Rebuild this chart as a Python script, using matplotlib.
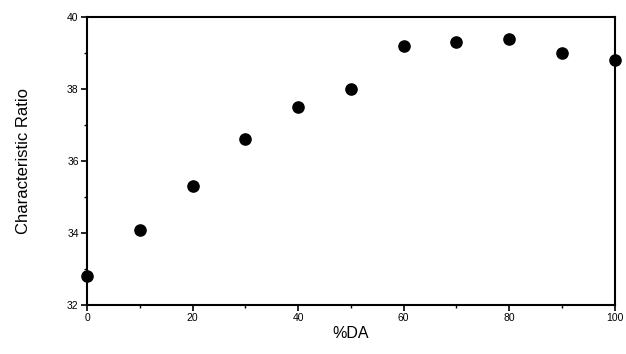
import matplotlib
matplotlib.use('Agg')
import matplotlib.pyplot as plt
from matplotlib.ticker import MultipleLocator

plt.rcParams['font.family'] = ['Liberation Sans', 'DejaVu Sans']

# Dane
pct_da = [0, 10, 20, 30, 40, 50, 60, 70, 80, 90, 100]
char_ratio = [32.8, 34.1, 35.3, 36.6, 37.5, 38.0, 39.2, 39.3, 39.4, 39.0, 38.8]

x_ticks = [0, 20, 40, 60, 80, 100]
y_ticks = [32, 34, 36, 38, 40]

fig = plt.figure(figsize=(6.26, 3.54), dpi=100)
ax = fig.add_axes([0.139, 0.138, 0.843, 0.814])

ax.scatter(pct_da, char_ratio, s=65, color='black', zorder=3, clip_on=False)

ax.set_xlim(0, 100)
ax.set_ylim(32, 40)
ax.set_xticks(x_ticks)
ax.set_yticks(y_ticks)
ax.xaxis.set_minor_locator(MultipleLocator(10))
ax.yaxis.set_minor_locator(MultipleLocator(1))
ax.tick_params(which='major', direction='out', length=4, width=1.2, labelsize=7.5, pad=2)
ax.tick_params(which='minor', direction='out', length=2, width=1)

for s in ax.spines.values():
    s.set_linewidth(1.5)

ax.set_xlabel('%DA', fontsize=11.5, labelpad=2)
ax.set_ylabel('Characteristic Ratio', fontsize=12, labelpad=26)

fig.savefig('out.png', dpi=100)
